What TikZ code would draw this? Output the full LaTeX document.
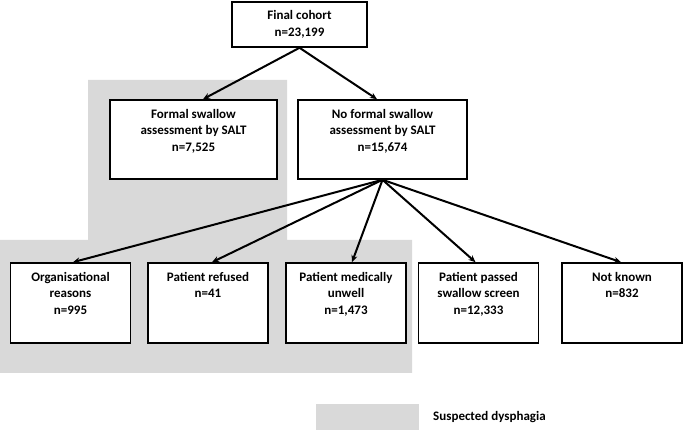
\documentclass[tikz,border=0pt]{standalone}
\usepackage{fontspec}
\setmainfont{Carlito}
\usetikzlibrary{arrows.meta}
\usetikzlibrary{backgrounds}
\newcommand{\toptext}[2]{\parbox[c][#1][t]{116pt}{\centering\vspace*{7pt}#2}}

\begin{document}
\begin{tikzpicture}[x=1pt,y=1pt,
		box/.style = {draw, line width=1.6pt, fill=white, inner sep=0pt, minimum width=120pt, minimum height=80pt},
		link/.style = {line width=2pt, -{Stealth[length=7pt,width=6pt]}}]
				\useasboundingbox (0,0) rectangle (683,430);
				\fill[black!15] (88,350) -- (287,350) -- (287,190) -- (412,190) -- (412,57) -- (0,57) -- (0,190) -- (88,190) -- cycle;
				\begin{scope}[every node/.style={font=\bfseries\fontsize{13}{16.7}\selectfont}]
					\node[box, minimum width=135pt, minimum height=45pt, align=center] (cohort) at (299.5,405.5) {Final cohort\\n=23,199};
					\node[box, minimum width=167pt, minimum height=79pt] (formal) at (193.5,290.5) {\toptext{75pt}{Formal swallow\\assessment by SALT\\n=7,525}};
					\node[box, minimum width=169pt, minimum height=79pt] (noformal) at (382.5,290.5) {\toptext{75pt}{No formal swallow\\assessment by SALT\\n=15,674}};
					\node[box] (orgreasons) at (70.5,127) {\toptext{76pt}{Organisational\\reasons\\n=995}};
					\node[box] (refused) at (208,127) {\toptext{76pt}{Patient refused\\n=41}};
					\node[box] (unwell) at (346,127) {\toptext{76pt}{Patient medically\\unwell\\n=1,473}};
					\node[box] (passed) at (478.5,127) {\toptext{76pt}{Patient passed\\swallow screen\\n=12,333}};
					\node[box] (notknown) at (622,127) {\toptext{76pt}{Not known\\n=832}};
					\node[fill=black!15, minimum width=103pt, minimum height=26pt, inner sep=0pt] (legend) at (367.5,13) {};
					\node[anchor=west, inner sep=0pt] (legendtext) at (433,13) {Suspected dysphagia};
				\end{scope}
				\draw [link] (cohort.south) -- ([xshift=9.5pt]formal.north);
				\draw [link] (cohort.south) -- ([xshift=-5.5pt]noformal.north);
				\draw [link] (noformal.south) -- ([xshift=2.5pt]orgreasons.north);
				\draw [link] (noformal.south) -- ([xshift=4pt]refused.north);
				\draw [link] (noformal.south) -- ([xshift=6pt]unwell.north);
				\draw [link] (noformal.south) -- ([xshift=-3pt]passed.north);
				\draw [link] (noformal.south) -- ([xshift=-1pt]notknown.north);
			\end{tikzpicture}
\end{document}
